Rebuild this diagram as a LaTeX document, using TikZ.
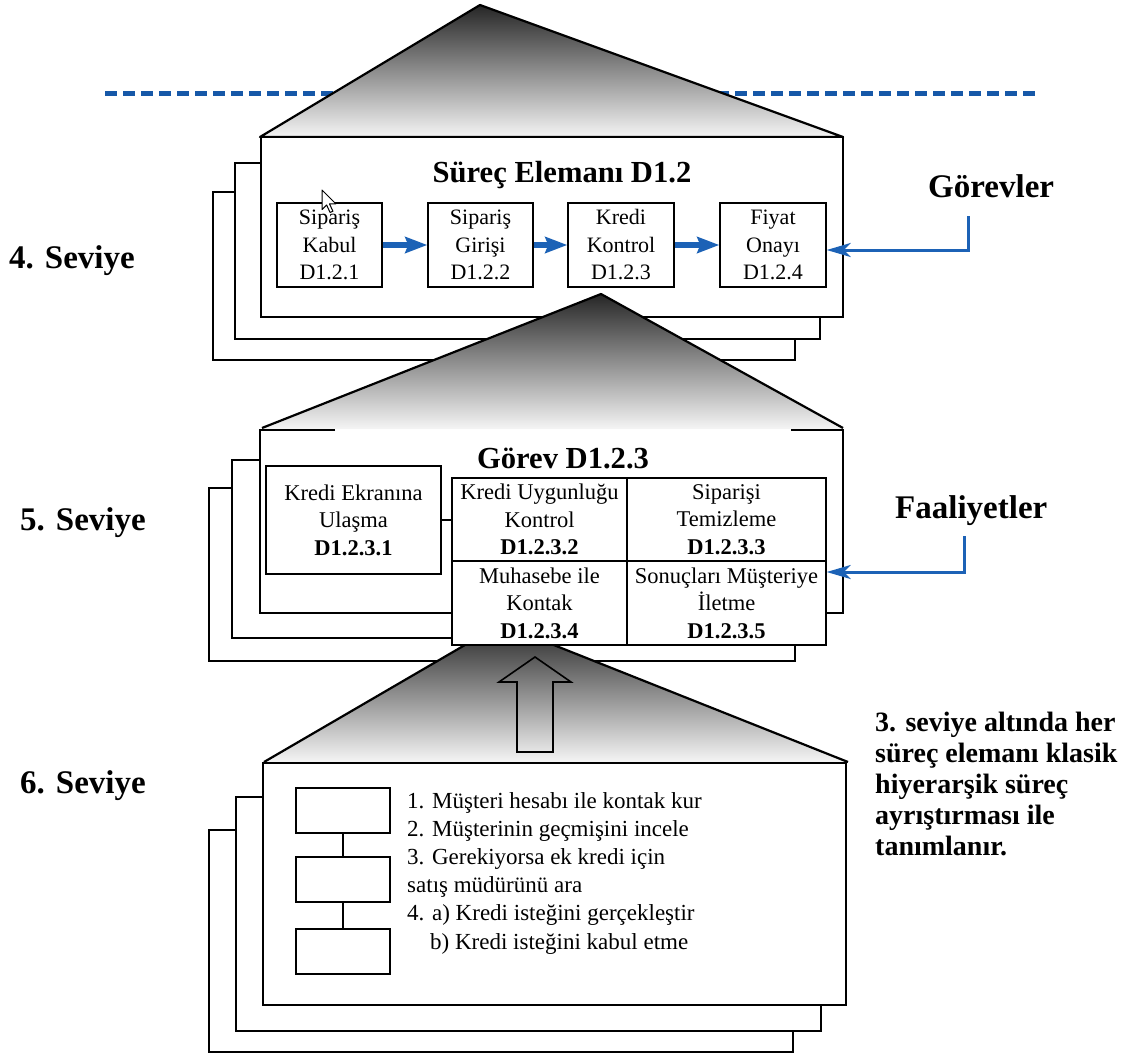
\documentclass[tikz,border=0pt]{standalone}
\usepackage{fontspec}
\setmainfont{LiberationSerif}[Extension=.ttf, UprightFont=*-Regular, BoldFont=*-Bold, ItalicFont=*-Italic, BoldItalicFont=*-BoldItalic]
\usetikzlibrary{arrows.meta}

\definecolor{dashblue}{RGB}{22,88,168}
\definecolor{arrowblue}{RGB}{28,98,182}

\newcommand{\levtitlefont}{\fontsize{30.6}{34}\bfseries\selectfont}
\newcommand{\sidelabelfont}{\fontsize{33}{36}\bfseries\selectfont}
\newcommand{\boxtextfont}{\fontsize{22}{27.5}\selectfont}
\newcommand{\celltextfont}{\fontsize{22.5}{27.5}\selectfont}
\newcommand{\listtextfont}{\fontsize{23}{28.2}\selectfont}
\newcommand{\notetextfont}{\fontsize{28}{31}\bfseries\selectfont}

\tikzset{
  stack/.style={draw=black, fill=white, line width=2.4pt},
  roof/.style={top color=black!85, bottom color=black!4},
  roofline/.style={draw=black, line width=2.2pt, line join=round},
  subbox/.style={draw=black, fill=white, line width=1.4pt, inner sep=0pt,
    align=center, font=\boxtextfont},
  cellbox/.style={draw=black, fill=white, line width=1.4pt, inner sep=0pt,
    align=center, font=\celltextfont},
  stepbox/.style={draw=black, fill=white, line width=2pt, inner sep=0pt,
    minimum width=94pt, minimum height=45pt},
  flowarrow/.style={arrowblue, line width=6pt,
    -{Stealth[length=22pt,width=16pt,inset=3pt]}},
  feedarrow/.style={arrowblue, line width=3pt,
    -{Stealth[length=24pt,width=14pt,inset=7pt]}},
  sidelabel/.style={anchor=base west, inner sep=0pt, font=\sidelabelfont},
  leveltitle/.style={anchor=base, inner sep=0pt, font=\levtitlefont}
}

\begin{document}
\begin{tikzpicture}[x=1pt,y=-1pt]
\useasboundingbox (0,0) rectangle (1127,1055);

% level boundary
\draw[dashblue, line width=5pt, dash pattern=on 12pt off 6pt] (105,93) -- (1035,93);

% ---------- level 4 ----------
\shade[roof] (480,5) -- (843,137) -- (260,137) -- cycle;
\draw[roofline] (480,5) -- (843,137) -- (260,137) -- cycle;

\draw[stack] (213,192) rectangle (795,360);
\draw[stack] (235,163) rectangle (820,339);
\draw[stack] (261,137) rectangle (843,317);

\node[leveltitle] (t4) at (562,182) {Süreç Elemanı D1.2};

\node[subbox, minimum width=105pt, minimum height=84pt] (s1) at (329.5,245) {Sipariş\\Kabul\\D1.2.1};
\node[subbox, minimum width=105pt, minimum height=84pt] (s2) at (480.5,245) {Sipariş\\Girişi\\D1.2.2};
\node[subbox, minimum width=106pt, minimum height=84pt] (s3) at (621,245) {Kredi\\Kontrol\\D1.2.3};
\node[subbox, minimum width=106pt, minimum height=84pt] (s4) at (773,245) {Fiyat\\Onayı\\D1.2.4};

\draw[flowarrow] (s1) -- (s2);
\draw[flowarrow] (s2) -- (s3);
\draw[flowarrow] (s3) -- (s4);

% mouse pointer
\draw[fill=white, line width=1pt, line join=round, shift={(322,190)}, scale=1.15]
  (0,0) -- (0,17) -- (4,13) -- (7,19.5) -- (9.5,18.5) -- (6.5,12) -- (12,12) -- cycle;

\node[sidelabel] (gor) at (928,197) {Görevler};
\coordinate (gtop) at (968,216);
\coordinate (gbend) at (968,250);
\draw[feedarrow] (gtop) -- (gbend) -- (gbend -| s4.east);

% ---------- level 5 ----------
\shade[roof] (601,294) -- (843,429) -- (262,429) -- cycle;
\draw[roofline] (262,428) -- (601,294) -- (843,428);

\draw[stack] (209,488) rectangle (795,661);
\draw[stack] (232,460) rectangle (820,638);
\fill[white] (260,431) rectangle (843,613);
\draw[line width=2.4pt, line join=miter] (335,430) -- (260,430) -- (260,613) -- (843,613) -- (843,430) -- (791,430);

% ---------- level 6 roof (behind the level 5 grid) ----------
\shade[roof] (501,624) -- (848,762) -- (264,762) -- cycle;
\draw[roofline] (264,762) -- (501,624) -- (848,762);

\node[leveltitle] (t5) at (563,468) {Görev D1.2.3};

\node[cellbox, minimum width=175pt, minimum height=108pt] (k1) at (353.5,520) {Kredi Ekranına\\Ulaşma\\\textbf{D1.2.3.1}};
\node[cellbox, minimum width=175pt, minimum height=83pt] (c2) at (539.5,519.5) {Kredi Uygunluğu\\Kontrol\\\textbf{D1.2.3.2}};
\node[cellbox, minimum width=199pt, minimum height=83pt] (c3) at (726.5,519.5) {Siparişi\\Temizleme\\\textbf{D1.2.3.3}};
\node[cellbox, minimum width=175pt, minimum height=84pt] (c4) at (539.5,603) {Muhasebe ile\\Kontak\\\textbf{D1.2.3.4}};
\node[cellbox, minimum width=199pt, minimum height=84pt] (c5) at (726.5,603) {Sonuçları Müşteriye\\İletme\\\textbf{D1.2.3.5}};
\draw[line width=1.4pt] (k1.east) -- (k1.east -| c2.west);

\node[sidelabel] (faal) at (895,518) {Faaliyetler};
\coordinate (ftop) at (964,536);
\coordinate (fbend) at (964,572);
\draw[feedarrow] (ftop) -- (fbend) -- (fbend -| c5.east);

% ---------- level 6 ----------
\draw[black, line width=1.6pt, line join=miter]
  (535,657) -- (571,682) -- (553,682) -- (553,752) -- (517,752) -- (517,682) -- (499,682) -- cycle;

\draw[stack] (209,830) rectangle (793,1052);
\draw[stack] (236,797) rectangle (821,1031);
\draw[stack] (263,763) rectangle (846,1005);

\node[stepbox] (b1) at (343,810.5) {};
\node[stepbox] (b2) at (343,879.5) {};
\node[stepbox] (b3) at (343,951.5) {};
\draw[line width=2pt] (b1) -- (b2);
\draw[line width=2pt] (b2) -- (b3);

\node[anchor=north west, align=left, inner sep=0pt, font=\listtextfont] (steps) at (407,792)
  {1. Müşteri hesabı ile kontak kur\\
   2. Müşterinin geçmişini incele\\
   3. Gerekiyorsa ek kredi için\\
   satış müdürünü ara\\
   4. a) Kredi isteğini gerçekleştir\\
   \hspace*{23pt}b) Kredi isteğini kabul etme};

% ---------- level labels and note ----------
\node[sidelabel] (l4) at (9,268) {4. Seviye};
\node[sidelabel] (l5) at (20,530) {5. Seviye};
\node[sidelabel] (l6) at (20,793) {6. Seviye};

\node[anchor=north west, align=left, inner sep=0pt, font=\notetextfont] (note) at (875,712)
  {3. seviye altında her\\
   süreç elemanı klasik\\
   hiyerarşik süreç\\
   ayrıştırması ile\\
   tanımlanır.};
\end{tikzpicture}
\end{document}
